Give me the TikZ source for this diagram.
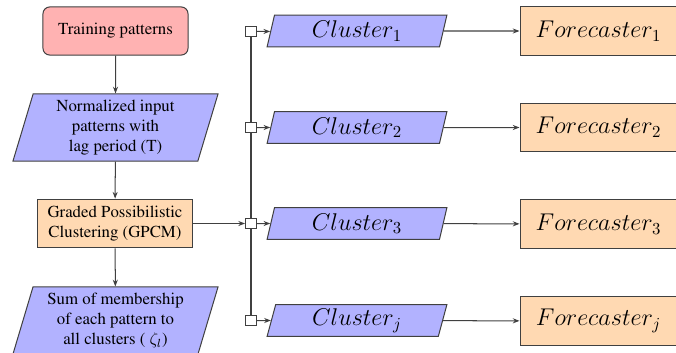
\documentclass[tikz,border=0pt]{standalone}
\usepackage[T1]{fontenc}
\renewcommand{\rmdefault}{ptm}
\usetikzlibrary{shapes.geometric,arrows.meta,backgrounds}
\begin{document}
\begin{tikzpicture}[x=0.595pt,y=-0.595pt,
 line/.style={draw=black!75, line width=0.6pt},
 arr/.style={line, -{Stealth[length=4pt,width=3pt]}},
 para/.style={trapezium, trapezium left angle=70, trapezium right angle=110,
   trapezium stretches body, draw=black!75, line width=0.6pt, fill=blue!30,
   inner sep=0pt, align=center},
 bigpara/.style={para, minimum width=122pt, minimum height=39.9pt},
 clus/.style={para, minimum width=107pt, minimum height=19pt, font=\Large},
 startbox/.style={rounded corners=4pt, draw=black!75, line width=0.6pt, fill=red!30,
   minimum width=86.3pt, minimum height=28.6pt, inner sep=0pt, align=center},
 procbox/.style={draw=black!75, line width=0.6pt, fill=orange!30,
   minimum width=92.8pt, minimum height=29pt, inner sep=0pt, align=center},
 fbox/.style={procbox, minimum width=93.4pt, minimum height=28.6pt, font=\Large},
 sq/.style={draw=black!75, line width=0.6pt, fill=white, minimum size=6.5pt, inner sep=0pt}
]
\useasboundingbox (0,0) rectangle (676,352);

\node[startbox] (train) at (115.5,31) {Training patterns};
\node[bigpara] (norm) at (115.5,127.5) {Normalized input\\patterns with\\lag period (T)};
\node[procbox] (gpcm) at (115,223.5) {Graded Possibilistic\\Clustering (GPCM)};
\node[bigpara] (sum) at (115.5,320.5) {Sum of membership\\of each pattern to\\all clusters ( $\zeta_l$)};

\draw[arr] (train) -- (norm);
\draw[arr] (norm) -- (gpcm);
\draw[arr] (gpcm) -- (sum);

\node[sq] (s1) at (251,31.5) {};
\node[sq] (s2) at (251,127.5) {};
\node[sq] (s3) at (251,223.5) {};
\node[sq] (sj) at (251,320.5) {};

\begin{pgfonlayer}{background}
\draw[line] (s1.center) -- (sj.center);
\end{pgfonlayer}

\draw[arr] (gpcm) -- (s3);

\node[clus] (c1) at (357,31) {$Cluster_1$};
\node[clus] (c2) at (357,127.5) {$Cluster_2$};
\node[clus] (c3) at (357,223.5) {$Cluster_3$};
\node[clus] (cj) at (357,320.5) {$Cluster_j$};

\node[fbox] (f1) at (598.5,31) {$Forecaster_1$};
\node[fbox] (f2) at (598.5,127.5) {$Forecaster_2$};
\node[fbox] (f3) at (598.5,224) {$Forecaster_3$};
\node[fbox] (fj) at (598.5,321) {$Forecaster_j$};

\foreach \i in {1,2,3,j}{
  \draw[arr] (s\i) -- (c\i);
  \draw[arr] (c\i) -- (f\i);
}
\end{tikzpicture}
\end{document}
